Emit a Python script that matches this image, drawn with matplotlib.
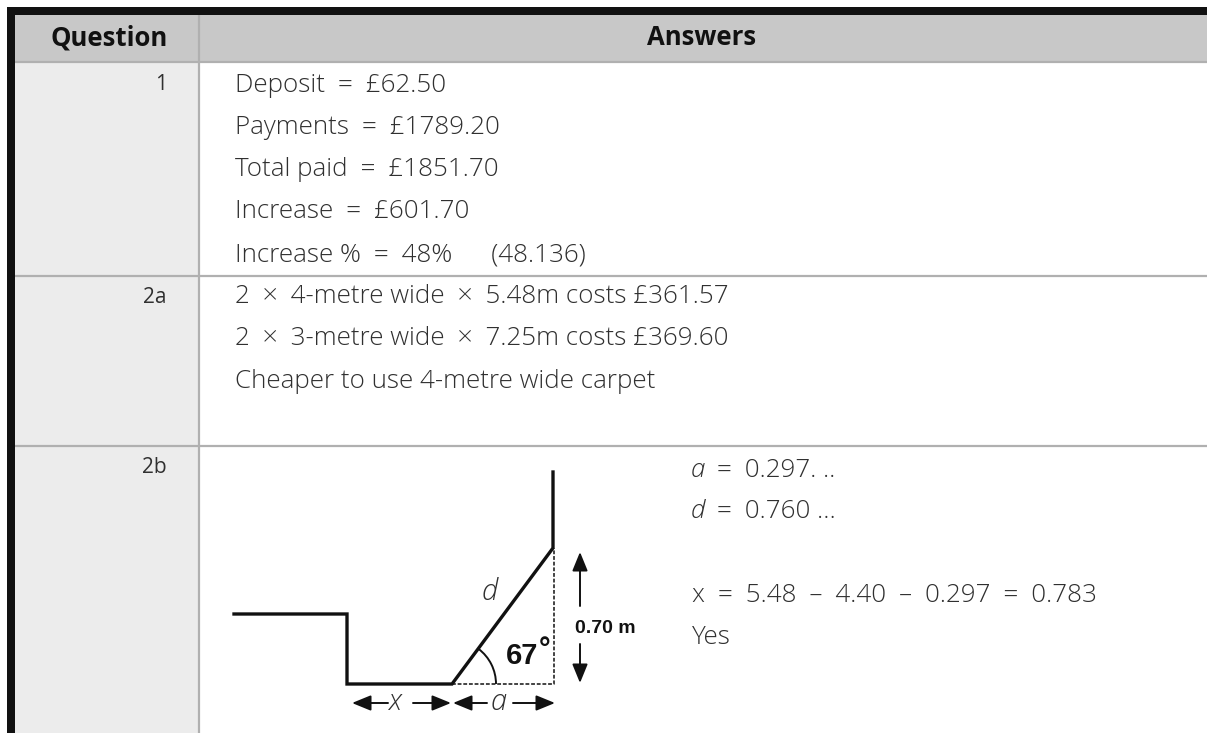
import matplotlib
matplotlib.use('Agg')
import matplotlib.pyplot as plt
from matplotlib.patches import Rectangle, Arc

W, H = 1207, 733
DARK = '#111111'
TXT = '#303030'
EN = '\u2002'

headers = ['Question', 'Answers']
question_labels = ['1', '2a', '2b']
question_y = [90, 303, 473]
row_lines = [62, 276, 446]

answers_1 = ['Deposit' + EN + '=' + EN + '£62.50',
             'Payments' + EN + '=' + EN + '£1789.20',
             'Total paid' + EN + '=' + EN + '£1851.70',
             'Increase' + EN + '=' + EN + '£601.70',
             'Increase %' + EN + '=' + EN + '48%' + EN + EN + EN + '(48.136)']
answers_1_y = [92, 134, 176, 218, 261]
answers_2a = ['2' + EN + '×' + EN + '4-metre wide' + EN + '×' + EN + '5.48m costs £361.57',
              '2' + EN + '×' + EN + '3-metre wide' + EN + '×' + EN + '7.25m costs £369.60',
              'Cheaper to use 4-metre wide carpet']
answers_2a_y = [303, 345, 388]
answers_2b = ['=' + EN + '0.297. ..', '=' + EN + '0.760 …',
              'x' + EN + '=' + EN + '5.48' + EN + '–' + EN + '4.40' + EN + '–' + EN + '0.297' + EN + '=' + EN + '0.783',
              'Yes']
answers_2b_y = [477, 518, 602, 644]
answers_2b_x = [717, 717, 692, 692]

profile_x = [234, 347, 347, 452, 553, 553]
profile_y = [614, 614, 684, 684, 548, 472]

plt.rcParams['font.family'] = ['Open Sans', 'DejaVu Sans']

fig = plt.figure(figsize=(W / 100, H / 100), dpi=100)
ax = fig.add_axes([0, 0, 1, 1])
ax.set_xlim(0, W)
ax.set_ylim(H, 0)
ax.axis('off')

# table backgrounds
ax.add_patch(Rectangle((15, 62), 184, H - 62, fc='#ececec', ec='none', zorder=0))
ax.add_patch(Rectangle((15, 15), W - 15, 47, fc='#c8c8c8', ec='none', zorder=0))
ax.add_patch(Rectangle((7, 7), W - 7, 8, fc=DARK, ec='none', zorder=3))
ax.add_patch(Rectangle((7, 7), 8, H - 7, fc=DARK, ec='none', zorder=3))
ax.plot([199, 199], [15, H], color='#b0b0b0', lw=1.6, zorder=2)
for y in row_lines:
    ax.plot([15, W], [y, y], color='#b0b0b0', lw=1.6, zorder=2)

ax.text(109, 45, headers[0], fontsize=18.5, fontweight='bold', ha='center', va='baseline', color=DARK)
ax.text(702, 45, headers[1], fontsize=18.5, fontweight='bold', ha='center', va='baseline', color=DARK)

for lab, y in zip(question_labels, question_y):
    ax.text(167, y, lab, fontsize=15, ha='right', va='baseline', color=TXT)

for lines, ys in ((answers_1, answers_1_y), (answers_2a, answers_2a_y)):
    for s, y in zip(lines, ys):
        ax.text(235, y, s, fontsize=18.7, fontweight='light', ha='left', va='baseline', color=TXT)
for s, x, y in zip(answers_2b, answers_2b_x, answers_2b_y):
    ax.text(x, y, s, fontsize=18.7, fontweight='light', ha='left', va='baseline', color=TXT)
ax.text(691, answers_2b_y[0], 'a', fontsize=18.7, fontweight='light', style='italic', ha='left', va='baseline', color=TXT)
ax.text(691, answers_2b_y[1], 'd', fontsize=18.7, fontweight='light', style='italic', ha='left', va='baseline', color=TXT)

# stair diagram
ax.plot(profile_x, profile_y, color=DARK, lw=2.4, solid_joinstyle='miter', zorder=4)
ax.plot([452, 554, 554], [684, 684, 548], color=DARK, lw=1.1, ls=(0, (2.5, 1.2)), zorder=3)
ax.add_patch(Arc((452, 684), 88, 88, theta1=-53, theta2=0, color=DARK, lw=1.4))


def arrow(x0, y0, x1, y1):
    ax.annotate('', xy=(x1, y1), xytext=(x0, y0),
                arrowprops=dict(arrowstyle='-|>,head_width=0.47,head_length=1.15',
                                mutation_scale=10, color=DARK, lw=1.4, shrinkA=0, shrinkB=0))


arrow(388, 703, 352, 703)
arrow(413, 703, 451, 703)
arrow(487, 703, 453, 703)
arrow(513, 703, 555, 703)
arrow(580, 606, 580, 552)
arrow(580, 644, 580, 683)

ax.text(395, 710, 'x', fontsize=21, fontweight='light', style='italic', ha='center', va='baseline', color=TXT)
ax.text(499, 710, 'a', fontsize=21, fontweight='light', style='italic', ha='center', va='baseline', color=TXT)
ax.text(490, 600, 'd', fontsize=21, fontweight='light', style='italic', ha='center', va='baseline', color=TXT)
ax.text(506, 664, '67', fontsize=21, fontweight='bold', family='Liberation Sans', ha='left', va='baseline', color=DARK)
ax.text(545, 658, '°', fontsize=21, fontweight='bold', family='Liberation Sans', ha='center', va='baseline', color=DARK)
ax.text(605, 633, '0.70 m', fontsize=14, fontweight='bold', family='Liberation Sans', ha='center', va='baseline', color=DARK)

fig.savefig('out.png', dpi=100, facecolor='white')
